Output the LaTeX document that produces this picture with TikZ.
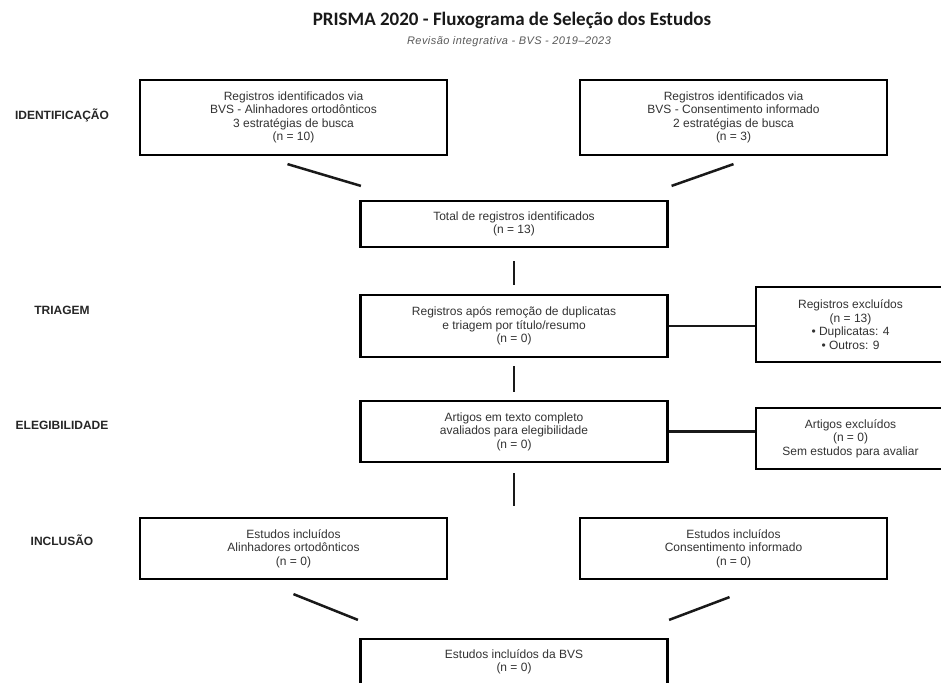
\documentclass[tikz,border=0pt]{standalone}
\usepackage{fontspec}
\setmainfont{Liberation Sans}
\newfontfamily\titlefont{Carlito}
\newfontfamily\subfont[LetterSpace=4]{Liberation Sans}
\usetikzlibrary{calc}
\begin{document}
\begin{tikzpicture}[x=1pt,y=-1pt,
  box/.style={draw=black, line width=2.2pt, fill=white, align=center, inner sep=2pt,
    text=black!80, font=\fontsize{12}{13.5}\selectfont},
  link/.style={line width=2.5pt, draw=black!90},
  stage/.style={font=\fontsize{12}{14}\selectfont\bfseries, text=black!85}]
\useasboundingbox (0,0) rectangle (941,682);
\clip (0,0) rectangle (941,682);
\fill[white] (0,0) rectangle (941,682);

\node[font=\titlefont\bfseries\fontsize{19}{22}\selectfont, text=black!90] (title) at (512,20) {PRISMA 2020 - Fluxograma de Seleção dos Estudos};
\node[font=\subfont\itshape\fontsize{11}{12}\selectfont, text=black!65] (sub) at (509,42) {Revisão integrativa - BVS - 2019–2023};

\node[stage] (s1) at (62,115) {IDENTIFICAÇÃO};
\node[stage] (s2) at (62,310) {TRIAGEM};
\node[stage] (s3) at (62,425) {ELEGIBILIDADE};
\node[stage] (s4) at (62,540) {INCLUSÃO};

\node[box, minimum width=307pt, minimum height=75pt] (b1) at (293.5,117.5)
  {Registros identificados via\\BVS - Alinhadores ortodônticos\\3 estratégias de busca\\(n = 10)};
\node[box, minimum width=307pt, minimum height=75pt] (b2) at (733.5,117.5)
  {Registros identificados via\\BVS - Consentimento informado\\2 estratégias de busca\\(n = 3)};
\node[box, minimum width=307pt, minimum height=46pt] (b3) at (514,224)
  {Total de registros identificados\\(n = 13)};
\node[box, minimum width=307pt, minimum height=62pt] (b4) at (514,326)
  {Registros após remoção de duplicatas\\e triagem por título/resumo\\(n = 0)};
\node[box, minimum width=189pt, minimum height=75pt] (ex1) at (850.5,324.5)
  {Registros excluídos\\(n = 13)\\• Duplicatas: 4\\• Outros: 9};
\node[box, minimum width=307pt, minimum height=61pt] (b5) at (514,431.5)
  {Artigos em texto completo\\avaliados para elegibilidade\\(n = 0)};
\node[box, minimum width=189pt, minimum height=61pt] (ex2) at (850.5,438.5)
  {Artigos excluídos\\(n = 0)\\Sem estudos para avaliar};
\node[box, minimum width=307pt, minimum height=61pt] (b6) at (293.5,548.5)
  {Estudos incluídos\\Alinhadores ortodônticos\\(n = 0)};
\node[box, minimum width=307pt, minimum height=61pt] (b7) at (733.5,548.5)
  {Estudos incluídos\\Consentimento informado\\(n = 0)};
\node[box, minimum width=307pt, minimum height=46pt] (b8) at (514,662)
  {Estudos incluídos da BVS\\(n = 0)};

\coordinate (split) at ($(b5.south)+(0,43)$);

\draw[link] ($(b1.south)+(-6,8)$) -- ($(b3.north west)+(1.5,-14)$);
\draw[link] ($(b2.south)+(0,8)$) -- ($(b3.north east)+(3,-14)$);
\draw[link] ($(b3.south)+(0,13)$) -- ($(b4.north)+(0,-9)$);
\draw[link] (b4.east) -- (b4.east -| ex1.west);
\draw[link] ($(b4.south)+(0,8)$) -- ($(b5.north)+(0,-8)$);
\draw[link] (b5.east) -- (b5.east -| ex2.west);
\draw[link] ($(b5.south)+(0,10)$) -- (split);
\draw[link] ($(b6.south)+(0,14)$) -- ($(b8.north west)+(-1.5,-18)$);
\draw[link] ($(b7.south)+(-4,17)$) -- ($(b8.north east)+(0.5,-18)$);
\end{tikzpicture}
\end{document}
